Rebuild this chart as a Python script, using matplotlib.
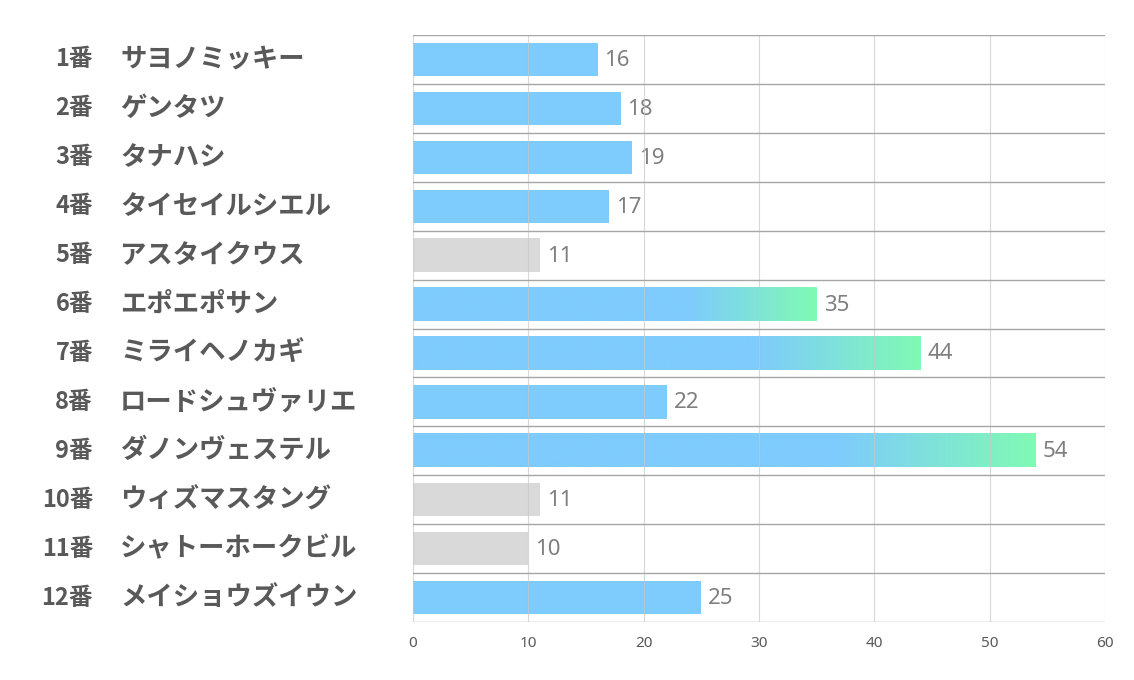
import matplotlib
matplotlib.use("Agg")
import matplotlib.pyplot as plt
import matplotlib.transforms as mtransforms
import numpy as np

plt.rcParams['font.family'] = ['Noto Sans CJK JP', 'DejaVu Sans']

numbers = ["1番", "2番", "3番", "4番", "5番", "6番", "7番", "8番", "9番", "10番", "11番", "12番"]
names = ["サヨノミッキー", "ゲンタツ", "タナハシ", "タイセイルシエル", "アスタイクウス", "エポエポサン",
         "ミライヘノカギ", "ロードシュヴァリエ", "ダノンヴェステル", "ウィズマスタング", "シャトーホークビル",
         "メイショウズイウン"]
values = [16, 18, 19, 17, 11, 35, 44, 22, 54, 11, 10, 25]
xticks = [0, 10, 20, 30, 40, 50, 60]

blue = np.array([126, 203, 253]) / 255
green = np.array([128, 250, 180]) / 255
gray = "#D9D9D9"

fig = plt.figure(figsize=(11.34, 6.8), dpi=100)
ax = fig.add_axes([413 / 1134, 1 - 622 / 680, 692 / 1134, 587 / 680])

h = 0.68
for i, v in enumerate(values):
    if v <= 11:
        ax.barh(i, v, height=h, color=gray, zorder=2)
    elif v >= 30:
        # blue that fades into green over the last part of the bar
        t = np.linspace(0, 1, 300)
        f = np.clip((t - 0.68) / 0.32, 0, 1)[:, None]
        img = (blue * (1 - f) + green * f)[None, :, :]
        ax.imshow(img, extent=[0, v, i + h / 2, i - h / 2], aspect='auto',
                  interpolation='bilinear', zorder=2)
    else:
        ax.barh(i, v, height=h, color=blue, zorder=2)
    ax.text(v + 0.6, i + 0.02, str(v), va='center', ha='left', fontsize=16,
            color='#7F7F7F', family=['Noto Sans', 'DejaVu Sans'])

ax.set_xlim(0, 60)
ax.set_ylim(len(values) - 0.5, -0.5)

# grid: light vertical lines, darker row separators
for x in xticks:
    ax.axvline(x, color='#C8C8C8', lw=0.8, alpha=0.7, zorder=3)
for k in range(len(values) + 1):
    ax.axhline(k - 0.5, color='#A6A6A6', lw=1.0, zorder=3)

for s in ax.spines.values():
    s.set_visible(False)
ax.set_yticks([])
ax.set_xticks(xticks)
ax.tick_params(axis='x', length=0, pad=10, labelsize=11, labelcolor='#595959')
for lab in ax.get_xticklabels():
    lab.set_family(['Noto Sans', 'DejaVu Sans'])

trans = mtransforms.blended_transform_factory(fig.transFigure, ax.transData)
for i, (n, name) in enumerate(zip(numbers, names)):
    ax.text(93 / 1134, i, n, transform=trans, ha='right', va='center',
            fontsize=17, fontweight='bold', color='#595959')
    ax.text(120 / 1134, i, name, transform=trans, ha='left', va='center',
            fontsize=19, fontweight='bold', color='#595959')

fig.savefig("out.png", dpi=100)
